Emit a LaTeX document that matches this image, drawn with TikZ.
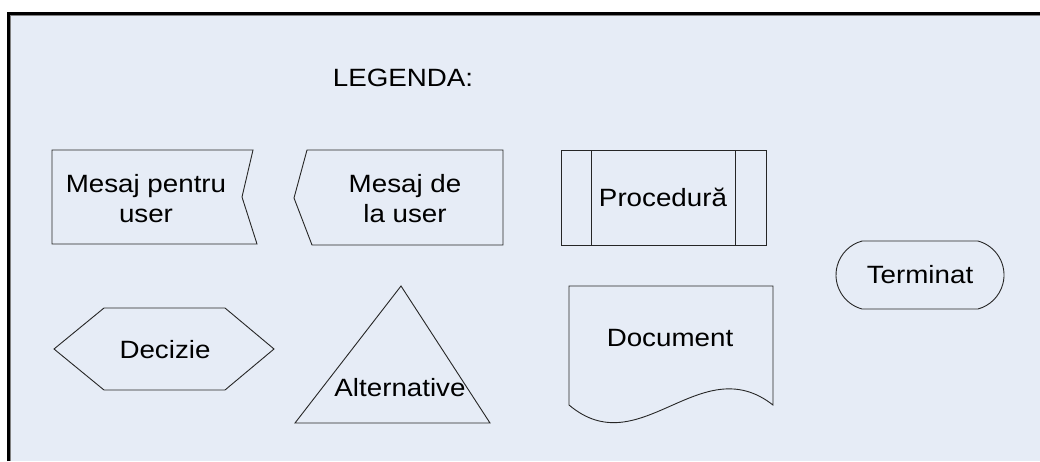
\documentclass[tikz,border=0pt]{standalone}
\usepackage{fontspec}
\setmainfont[FakeStretch=1.11]{Liberation Sans}
\usepackage{tikz}
\usetikzlibrary{
    shapes.misc,
    positioning
}
\definecolor{legendbg}{RGB}{230,236,246}

\begin{document}
\begin{tikzpicture}[x=1pt, y=-1pt,
    symb/.style={draw=black!85, line width=0.9pt},
    txt/.style={font=\fontsize{25}{30}\selectfont, align=center, inner sep=0pt}]
    \useasboundingbox (0,0) rectangle (1040,461);
    \fill[white] (0,0) rectangle (1040,461);
    \fill[legendbg] (10,15) rectangle (1040,461);
    \draw[gray, line width=1pt] (10.5,461) -- (10.5,15.5) -- (1040,15.5);
    \draw[line width=3pt] (8.5,461) -- (8.5,13.5) -- (1040,13.5);
    % titlu
    \node[txt] (t) at (403,78) {LEGENDA:};
    % mesaje
    \draw[symb] (52,150) -- (253,150) -- (242,197) -- (257,244) -- (52,244) -- cycle;
    \node[txt] (mp) at (146,199) {Mesaj pentru\\user};
    \draw[symb] (307,150) -- (503,150) -- (503,245) -- (312,245) -- (294,198) -- cycle;
    \node[txt] (md) at (405,199) {Mesaj de\\la user};
    % procedura
    \draw[symb] (561,150) rectangle (766,245);
    \draw[symb] (591,150) -- (591,245);
    \draw[symb] (735,150) -- (735,245);
    \node[txt] (p) at (663,197) {Procedură};
    % terminat
    \node[symb, txt, rounded rectangle, rounded rectangle arc length=150,
          minimum width=168pt, minimum height=68pt] (term) at (920,275) {Terminat};
    % decizie
    \draw[symb] (54,349) -- (104,308) -- (225,308) -- (274,349) -- (225,390) -- (104,390) -- cycle;
    \node[txt] (d) at (165,350) {Decizie};
    % alternative
    \draw[symb] (401,286) -- (490,423) -- (295,423) -- cycle;
    \node[txt] (a) at (400,388) {Alternative};
    % document
    \draw[symb] (569,405) -- (569,286) -- (773,286) -- (773,405)
        .. controls (700,348) and (640,465) .. (569,405);
    \node[txt] (doc) at (670,338) {Document};
\end{tikzpicture}
\end{document}
